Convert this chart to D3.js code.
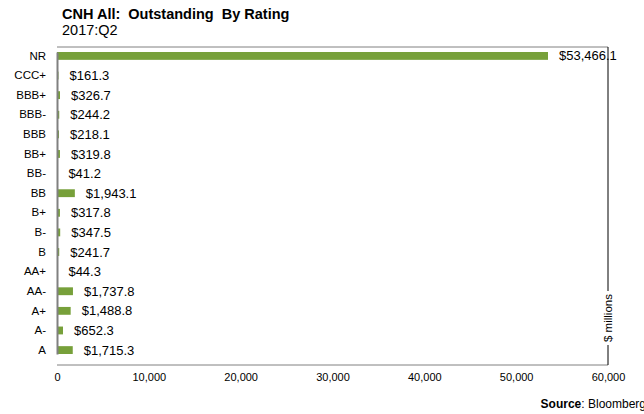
<!DOCTYPE html>
<html>
<head>
<meta charset="utf-8">
<script src="https://cdn.jsdelivr.net/npm/d3@7"></script>
<style>
  body { margin: 0; background: #fff; }
  text { font-family: Arial, "Liberation Sans", sans-serif; white-space: pre; }
</style>
</head>
<body>
<svg></svg>
<script>
let width = 644;
let height = 414;

let ratings = ['NR', 'CCC+', 'BBB+', 'BBB-', 'BBB', 'BB+', 'BB-', 'BB', 'B+', 'B-', 'B', 'AA+', 'AA-', 'A+', 'A-', 'A'];
let outstanding = [53466.1, 161.3, 326.7, 244.2, 218.1, 319.8, 41.2, 1943.1, 317.8, 347.5, 241.7, 44.3, 1737.8, 1488.8, 652.3, 1715.3];
let xTicks = [0, 10000, 20000, 30000, 40000, 50000, 60000];

let rows = ratings.map((r, i) => ({ rating: r, value: outstanding[i] }));

let margin = { top: 47, right: 36, bottom: 49, left: 57 };
let plotW = width - margin.left - margin.right;
let plotH = height - margin.top - margin.bottom;

let svg = d3.select('svg').attr('width', width).attr('height', height);

let x = d3.scaleLinear().domain([0, 60000]).range([0, plotW]);
let y = d3.scaleBand().domain(ratings).range([5, 307]).paddingInner(0.6).paddingOuter(0);

let g = svg.append('g').attr('transform', `translate(${margin.left},${margin.top})`);

// frame
g.append('line').attr('x1', 0).attr('x2', plotW).attr('y1', 0).attr('y2', 0)
  .attr('stroke', '#808080').attr('stroke-width', 1);
g.append('line').attr('x1', 0).attr('x2', plotW).attr('y1', plotH).attr('y2', plotH)
  .attr('stroke', '#808080').attr('stroke-width', 1);
g.append('line').attr('x1', plotW).attr('x2', plotW).attr('y1', 0).attr('y2', plotH)
  .attr('stroke', '#000').attr('stroke-width', 1);

g.selectAll('rect.bar')
  .data(rows)
  .enter()
  .append('rect')
  .attr('class', 'bar')
  .attr('x', 0)
  .attr('y', (d) => y(d.rating))
  .attr('width', (d) => x(d.value))
  .attr('height', y.bandwidth())
  .attr('fill', '#77a03a');

g.selectAll('text.val')
  .data(rows)
  .enter()
  .append('text')
  .attr('class', 'val')
  .attr('x', (d) => x(d.value) + 11)
  .attr('y', (d) => y(d.rating) + y.bandwidth() / 2)
  .attr('dy', '0.35em')
  .attr('font-size', 13)
  .attr('fill', '#000')
  .text((d) => '$' + d3.format(',.1f')(d.value));

// y axis
let yAxis = g.append('g').call(d3.axisLeft(y).tickSize(0).tickPadding(11));
yAxis.select('.domain').attr('stroke', '#808080').attr('stroke-width', 2);
yAxis.selectAll('text').attr('font-size', 11.5).attr('fill', '#000');

// x axis
let xAxis = g.append('g')
  .attr('transform', `translate(0,${plotH})`)
  .call(d3.axisBottom(x).tickValues(xTicks).tickSize(0).tickPadding(8).tickFormat(d3.format(',')));
xAxis.select('.domain').remove();
xAxis.selectAll('text').attr('font-size', 11).attr('fill', '#000');

// unit label sitting on the right frame line
let unit = g.append('g').attr('transform', `translate(${plotW},${plotH - 47}) rotate(-90)`);
unit.append('rect').attr('x', -27).attr('y', -7).attr('width', 54).attr('height', 14).attr('fill', '#fff');
unit.append('text')
  .attr('text-anchor', 'middle')
  .attr('dy', '0.35em')
  .attr('font-size', 11.5)
  .text('$ millions');

// titles
svg.append('text').attr('x', 62).attr('y', 19)
  .attr('font-size', 14.5).attr('font-weight', 'bold')
  .text('CNH All:  Outstanding  By Rating');
svg.append('text').attr('x', 62).attr('y', 35)
  .attr('font-size', 14.5)
  .text('2017:Q2');

let src = svg.append('text').attr('x', 646).attr('y', 408)
  .attr('text-anchor', 'end').attr('font-size', 12);
src.append('tspan').attr('font-weight', 'bold').text('Source');
src.append('tspan').text(': Bloomberg');
</script>
</body>
</html>
